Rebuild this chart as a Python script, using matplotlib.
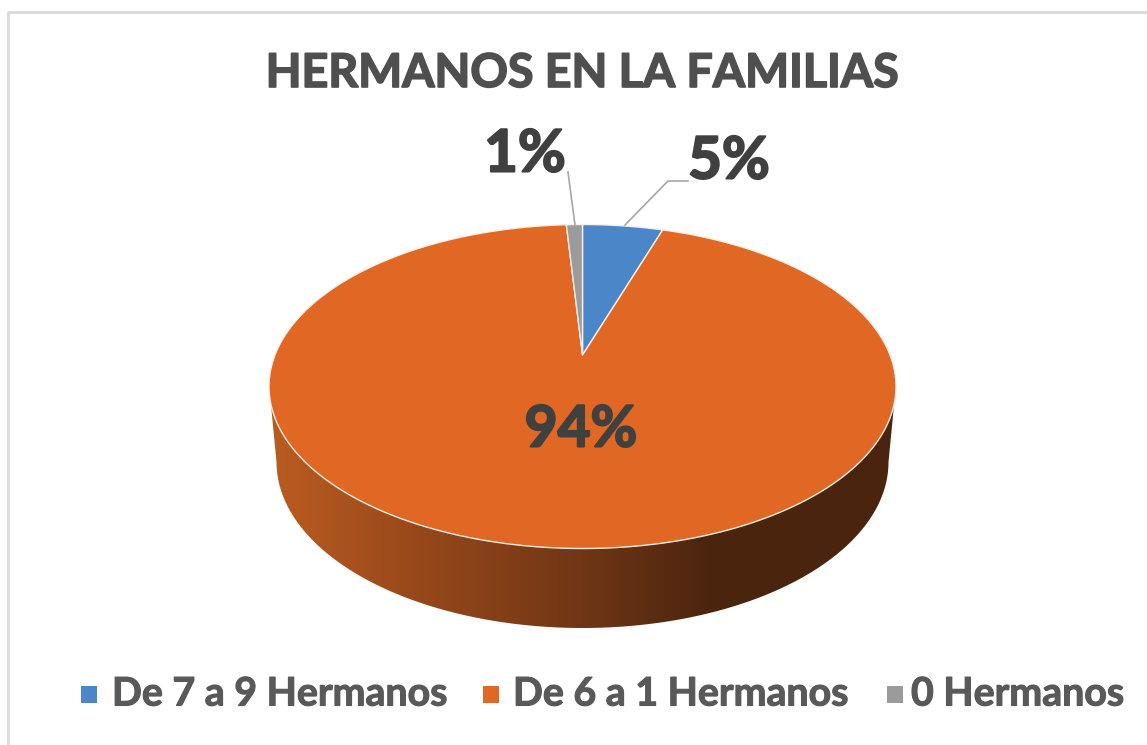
# Hermanos en la familias, tilted pie with a side wall

import numpy as np
import matplotlib.pyplot as plt
import matplotlib.patheffects as pe
from matplotlib.colors import LinearSegmentedColormap
from matplotlib.patches import Polygon

title = 'HERMANOS EN LA FAMILIAS'
categories = ['De 7 a 9 Hermanos', 'De 6 a 1 Hermanos', '0 Hermanos']
values = [5, 94, 1]
colors = ['#4a86c8', '#e06724', '#9b9b9b']

plt.rcParams['font.family'] = ['Lato', 'DejaVu Sans']

# ellipse of the top face in pixels, apex sits above its centre
cx, cy, rx, ry = 582.5, 386.5, 313.5, 162.0
apex_y = 355.0
tilt = (cy - apex_y) / ry


def project(u, v):
    # circle point to picture point, keeps the apex off centre
    w = 1 + tilt * v
    return cx + rx * np.sqrt(1 - tilt ** 2) * u / w, cy - ry * (v + tilt) / w


def heavy(width, color):
    # fonts here are lighter than the original, thicken the strokes
    return [pe.withStroke(linewidth=width, foreground=color)]


fig = plt.figure(figsize=(11.47, 7.45), dpi=100)
ax = fig.add_axes([0, 0, 1, 1])
ax.set_axis_off()

# chart frame
ax.plot([8, 8, 1147], [745, 12, 12], color='#d9d9d9', lw=2)

# side wall with its gradient
t_wall = np.linspace(np.pi, 2 * np.pi, 200)
wall_x = cx + 306 * np.cos(t_wall)
wall_y = 462 - 166 * np.sin(t_wall)
wall = Polygon(np.column_stack([np.r_[270, wall_x, 895], np.r_[395, wall_y, 395]]),
               closed=True, facecolor='none', edgecolor='none')
ax.add_patch(wall)
cmap_wall = LinearSegmentedColormap.from_list(
    'wall', [(0, '#bb5c20'), (0.25, '#95471a'), (0.5, '#703615'), (0.7, '#4c250f'), (1, '#4a240e')])
img = ax.imshow(np.linspace(0, 1, 256).reshape(1, -1), cmap=cmap_wall, aspect='auto',
                extent=(270, 895, 640, 380), zorder=1)
img.set_clip_path(wall)

# slices, clockwise from the top
edges = np.r_[0, np.cumsum(values)] / np.sum(values) * 2 * np.pi
for i in range(len(values)):
    t = np.linspace(edges[i], edges[i + 1], 300)
    px, py = project(np.sin(t), np.cos(t))
    ax.fill(np.r_[cx, px], np.r_[apex_y, py], facecolor=colors[i], edgecolor='#fbeee6',
            lw=1.0, zorder=2, joinstyle='round')

# leader lines
ax.plot([625, 668, 688], [225, 181, 181], color='#a6a6a6', lw=1.2, zorder=3)
ax.plot([575, 568], [225, 172], color='#a6a6a6', lw=1.2, zorder=3)

# labels
ax.text(729, 162, '%d%%' % values[0], ha='center', va='center', fontsize=42,
        fontweight='bold', color='#404040', path_effects=heavy(1.5, '#404040'))
ax.text(581, 430, '%d%%' % values[1], ha='center', va='center', fontsize=41,
        fontweight='bold', color='#404040', zorder=4, path_effects=heavy(1.5, '#404040'))
ax.text(525, 155, '%d%%' % values[2], ha='center', va='center', fontsize=42,
        fontweight='bold', color='#404040', path_effects=heavy(1.5, '#404040'))

ax.text(582, 73, title, ha='center', va='center', fontsize=33.5, fontweight='bold',
        color='#4f4f4f', path_effects=heavy(1.2, '#4f4f4f'))

# legend
legend_x = [81, 483, 887]
legend_text_x = [112, 513, 911]
for i in range(len(categories)):
    ax.fill([legend_x[i], legend_x[i] + 16, legend_x[i] + 16, legend_x[i]],
            [686, 686, 703, 703], color=colors[i], lw=0)
    ax.text(legend_text_x[i], 694, categories[i], ha='left', va='center', fontsize=28.3,
            fontweight='bold', color='#595959', path_effects=heavy(0.8, '#595959'))

ax.set_xlim(0, 1147)
ax.set_ylim(745, 0)
fig.savefig('out.png', dpi=100)
